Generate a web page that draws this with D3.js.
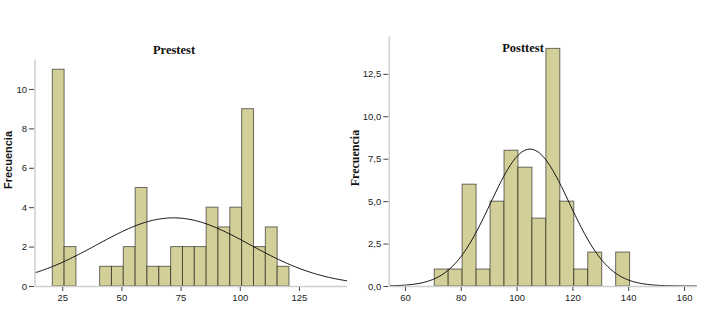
<!DOCTYPE html>
<html>
<head>
<meta charset="utf-8">
<script src="https://cdn.jsdelivr.net/npm/d3@7"></script>
<style>
  html, body { margin: 0; padding: 0; background: #fff; }
  svg { display: block; }
  .tick-label { font-family: "Liberation Sans", Arial, sans-serif; font-size: 9.5px; fill: #222; }
</style>
</head>
<body>
<svg id="chart" width="709" height="331"></svg>
<script>
// Pretest scores: histogram counts per 5-point bin, first bin starting at 20.8
const preBinStart = 20.8;
const preBinWidth = 5;
const preCounts = [11, 2, 0, 0, 1, 1, 2, 5, 1, 1, 2, 2, 2, 4, 3, 4, 9, 2, 3, 1];
const preYTicks = [0, 2, 4, 6, 8, 10];
const preXTicks = [25, 50, 75, 100, 125];
const preMean = 72, preSd = 32.3, preN = 56;

// Posttest scores: histogram counts per 5-point bin, first bin starting at 70.5
const postBinStart = 70.5;
const postBinWidth = 5;
const postCounts = [1, 1, 6, 1, 5, 8, 7, 4, 14, 5, 1, 2, 0, 2];
const postYTicks = [0, 2.5, 5, 7.5, 10, 12.5];
const postXTicks = [60, 80, 100, 120, 140, 160];
const postMean = 104.8, postSd = 14.1, postN = 57;

const svg = d3.select("#chart");
const barFill = "#d3cf99";
const commaFmt = v => d3.format(".1f")(v).replace(".", ",");

function panel(opts) {
  const x = d3.scaleLinear().domain(opts.xDomain).range(opts.xRange);
  const y = d3.scaleLinear().domain(opts.yDomain).range(opts.yRange);
  const g = svg.append("g");

  const bins = opts.counts.map((c, i) => ({
    x0: opts.binStart + i * opts.binWidth,
    x1: opts.binStart + (i + 1) * opts.binWidth,
    c
  })).filter(d => d.c > 0);

  // bars
  g.selectAll("rect.bar").data(bins).join("rect")
    .attr("class", "bar")
    .attr("x", d => x(d.x0))
    .attr("width", d => x(d.x1) - x(d.x0))
    .attr("y", d => y(d.c))
    .attr("height", d => y(0) - y(d.c))
    .attr("fill", barFill)
    .attr("stroke", "rgba(0,0,0,0.55)")
    .attr("stroke-width", 1);

  // fitted normal curve
  const [lo, hi] = opts.xDomain;
  const pts = d3.range(lo, hi + 0.01, (hi - lo) / 200).map(v => {
    const z = (v - opts.mean) / opts.sd;
    return [v, opts.n * opts.binWidth / (opts.sd * Math.sqrt(2 * Math.PI)) * Math.exp(-0.5 * z * z)];
  });
  g.append("path")
    .datum(pts)
    .attr("d", d3.line().x(d => x(d[0])).y(d => y(d[1])))
    .attr("fill", "none")
    .attr("stroke", "#111")
    .attr("stroke-width", 1);

  // axis lines
  g.append("line")
    .attr("x1", x(lo)).attr("x2", x(hi))
    .attr("y1", y(0) + 0.5).attr("y2", y(0) + 0.5)
    .attr("stroke", "#cfcfcf").attr("stroke-width", 1.5);
  g.append("line")
    .attr("x1", x(lo)).attr("x2", x(lo))
    .attr("y1", y(0)).attr("y2", y(opts.yDomain[1]))
    .attr("stroke", "#cfcfcf").attr("stroke-width", 1.5);

  // y axis ticks
  const yAx = d3.axisLeft(y).tickValues(opts.yTicks).tickSize(5).tickPadding(2)
    .tickFormat(opts.yFormat);
  const ya = g.append("g").attr("transform", `translate(${x(lo) - 1},0)`).call(yAx);
  ya.select(".domain").remove();
  ya.selectAll(".tick line").attr("stroke", "#444");
  ya.selectAll(".tick text").attr("class", "tick-label").attr("font-size", null).attr("font-family", null);

  // x axis ticks
  const xAx = d3.axisBottom(x).tickValues(opts.xTicks).tickSize(4).tickPadding(3)
    .tickFormat(d3.format("d"));
  const xa = g.append("g").attr("transform", `translate(0,${y(0) + 1})`).call(xAx);
  xa.select(".domain").remove();
  xa.selectAll(".tick line").attr("stroke", "#444");
  xa.selectAll(".tick text").attr("class", "tick-label").attr("font-size", null).attr("font-family", null);

  // title
  g.append("text")
    .attr("x", opts.titleX).attr("y", opts.titleY)
    .attr("text-anchor", "middle")
    .attr("font-family", "'Liberation Serif', 'Times New Roman', serif")
    .attr("font-weight", "bold")
    .attr("font-size", "12.5px")
    .attr("fill", "#111")
    .text(opts.title);

  // y label
  g.append("text")
    .attr("transform", `translate(${opts.yLabelX},${opts.yLabelY}) rotate(-90)`)
    .attr("text-anchor", "middle")
    .attr("font-family", opts.yLabelFont)
    .attr("font-weight", "bold")
    .attr("font-size", opts.yLabelSize)
    .attr("fill", "#111")
    .text("Frecuencia");
}

panel({
  counts: preCounts, binStart: preBinStart, binWidth: preBinWidth,
  xDomain: [13.5, 145.3], xRange: [35, 347],
  yDomain: [0, 11.5], yRange: [286, 59.4],
  yTicks: preYTicks, xTicks: preXTicks, yFormat: d3.format("d"),
  mean: preMean, sd: preSd, n: preN,
  title: "Prestest", titleX: 174, titleY: 54,
  yLabelX: 12, yLabelY: 160,
  yLabelFont: "'Liberation Sans', Arial, sans-serif", yLabelSize: "11px"
});

panel({
  counts: postCounts, binStart: postBinStart, binWidth: postBinWidth,
  xDomain: [54.4, 164.5], xRange: [389.3, 696.6],
  yDomain: [0, 14.7], yRange: [286, 36.5],
  yTicks: postYTicks, xTicks: postXTicks, yFormat: commaFmt,
  mean: postMean, sd: postSd, n: postN,
  title: "Posttest", titleX: 523, titleY: 52,
  yLabelX: 359, yLabelY: 158,
  yLabelFont: "'Liberation Serif', 'Times New Roman', serif", yLabelSize: "12px"
});
</script>
</body>
</html>
